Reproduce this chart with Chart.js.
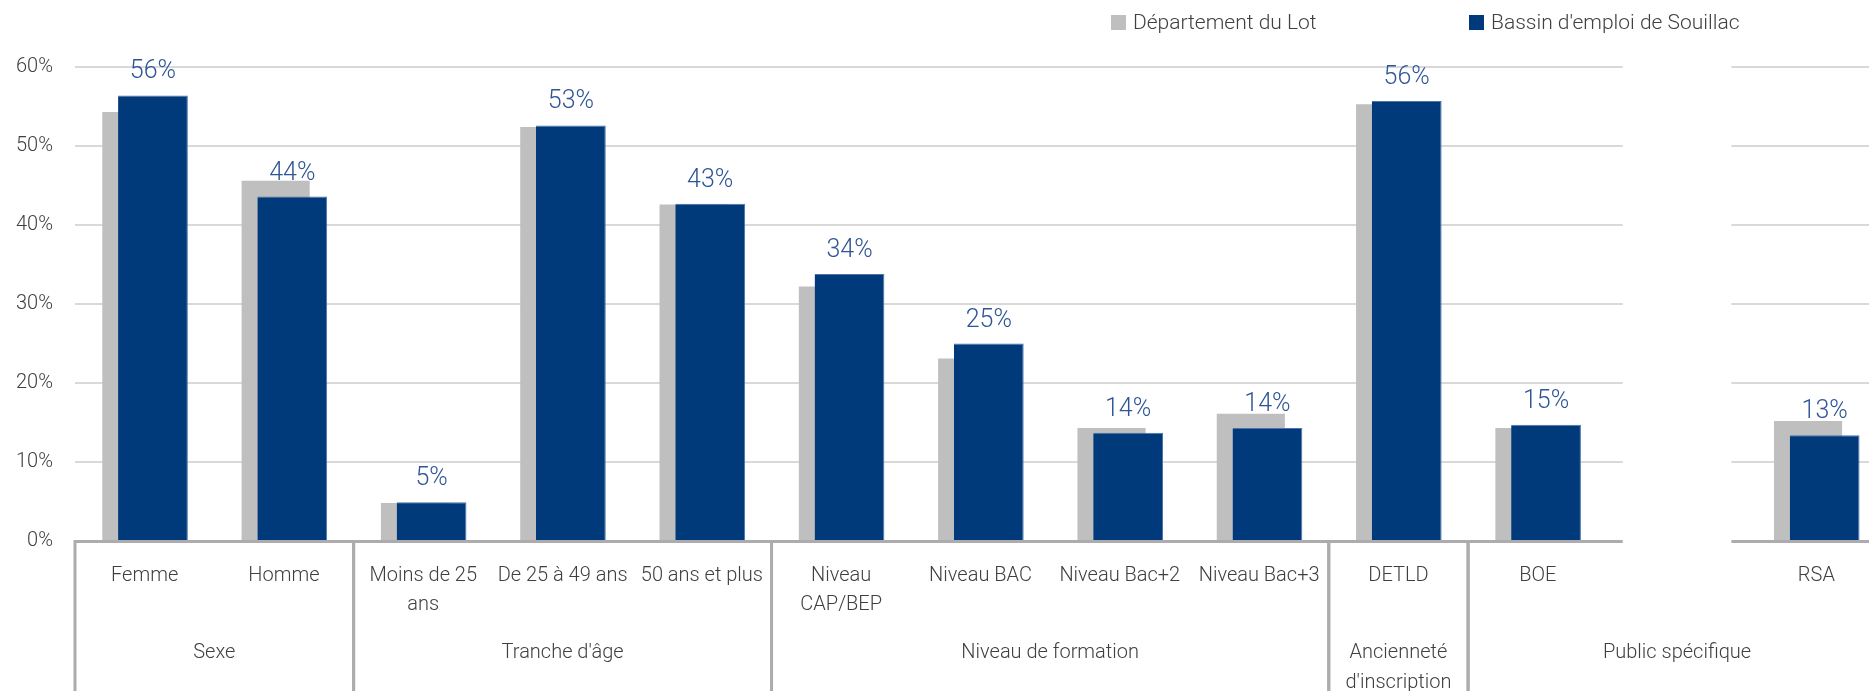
<!DOCTYPE html>
<html>
<head>
<meta charset="utf-8">
<script src="https://cdn.jsdelivr.net/npm/chart.js@4/dist/chart.umd.min.js"></script>
<style>
  html, body { margin: 0; padding: 0; overflow: hidden; background: #fff; }
  #wrap { position: relative; width: 1886px; height: 691px; }
  .item { position: absolute; top: 10px; display: flex; align-items: center; font: 300 21px Roboto, sans-serif; color: #404040; white-space: nowrap; }
  .box { width: 15px; height: 15px; margin-right: 7px; }
</style>
</head>
<body>
<div id="wrap">
  <canvas id="chart" width="1886" height="691"></canvas>
  <div class="item" style="left:1111px"><span class="box" style="background:#bfbfbf"></span>Département du Lot</div>
  <div class="item" style="left:1469px"><span class="box" style="background:#003a7a"></span>Bassin d'emploi de Souillac</div>
</div>
<script>
const gray = '#bfbfbf'
const navy = '#003a7a'
const textColor = '#404040'
const lineColor = '#aeabae'
const gridColor = '#d9d9d9'

const categories = ['Femme', 'Homme', ['Moins de 25', 'ans'], 'De 25 à 49 ans', '50 ans et plus',
  ['Niveau', 'CAP/BEP'], 'Niveau BAC', 'Niveau Bac+2', 'Niveau Bac+3', 'DETLD', 'BOE', '', 'RSA']
const groups = ['Sexe', "Tranche d'âge", 'Niveau de formation', ['Ancienneté', "d'inscription"], 'Public spécifique']
const groupSizes = [2, 3, 4, 1, 3]
const lotValues = [0.543, 0.456, 0.048, 0.524, 0.426, 0.322, 0.231, 0.143, 0.161, 0.553, 0.143, null, 0.152]
const souillacValues = [0.564, 0.436, 0.049, 0.526, 0.427, 0.338, 0.250, 0.137, 0.143, 0.557, 0.147, null, 0.134]
const yTicks = [0, 0.1, 0.2, 0.3, 0.4, 0.5, 0.6]

const font = { family: 'Roboto, sans-serif', size: 20, weight: 300 }
const pct = v => Math.round(v * 100) + '%'

// white-out the grid behind the empty category, like the original
const gapPlugin = {
  id: 'gap',
  beforeDatasetsDraw(chart) {
    const x = chart.scales.x
    const i = categories.indexOf('')
    if (i < 0) return
    const w = x.getPixelForValue(1) - x.getPixelForValue(0)
    const c = x.getPixelForValue(i)
    const ctx = chart.ctx
    ctx.save()
    ctx.fillStyle = '#fff'
    ctx.fillRect(c - w * 0.39, chart.chartArea.top - 3, w * 0.78, x.top - chart.chartArea.top + 6)
    ctx.restore()
  }
}

const valueLabels = {
  id: 'valueLabels',
  afterDatasetsDraw(chart) {
    const idx = chart.data.datasets.findIndex(d => d.data === souillacValues)
    const meta = chart.getDatasetMeta(idx)
    const ctx = chart.ctx
    ctx.save()
    ctx.font = `300 25px ${font.family}`
    ctx.fillStyle = '#2f5597'
    ctx.textAlign = 'center'
    ctx.textBaseline = 'alphabetic'
    meta.data.forEach((bar, i) => {
      if (souillacValues[i] == null) return
      ctx.fillText(pct(souillacValues[i]), bar.x, bar.y - 17)
    })
    ctx.restore()
  }
}

// second row of the category axis: group names and separators
const groupAxis = {
  id: 'groupAxis',
  afterDraw(chart) {
    const x = chart.scales.x
    const w = x.getPixelForValue(1) - x.getPixelForValue(0)
    const ctx = chart.ctx
    ctx.save()
    ctx.strokeStyle = lineColor
    ctx.lineWidth = 3
    ctx.fillStyle = textColor
    ctx.font = `${font.weight} ${font.size}px ${font.family}`
    ctx.textAlign = 'center'
    ctx.textBaseline = 'middle'
    let start = 0
    groups.forEach((g, gi) => {
      const left = x.getPixelForValue(start) - w / 2
      const right = x.getPixelForValue(start + groupSizes[gi] - 1) + w / 2
      ctx.beginPath()
      ctx.moveTo(left, x.top - 1)
      ctx.lineTo(left, chart.height)
      ctx.moveTo(right, x.top - 1)
      ctx.lineTo(right, chart.height)
      ctx.stroke()
      const lines = Array.isArray(g) ? g : [g]
      lines.forEach((t, li) => ctx.fillText(t, (left + right) / 2, x.top + 112 + li * 30))
      start += groupSizes[gi]
    })
    ctx.restore()
  }
}

new Chart(document.getElementById('chart'), {
  type: 'bar',
  data: {
    labels: categories,
    datasets: [
      // empty placeholder: puts the Lot stack in the left slot while Lot bars are drawn underneath
      { label: '', data: [], stack: 'lot', order: 0 },
      {
        label: 'Département du Lot',
        data: lotValues,
        backgroundColor: gray,
        stack: 'lot',
        order: 2,
        barPercentage: 4.1,
      },
      {
        label: "Bassin d'emploi de Souillac",
        data: souillacValues,
        backgroundColor: navy,
        borderColor: '#4a74ab',
        borderWidth: { top: 1, right: 1, left: 0, bottom: 0 },
        stack: 'souillac',
        order: 1,
        barPercentage: 4.2,
      },
    ]
  },
  options: {
    responsive: false,
    animation: false,
    devicePixelRatio: 1,
    categoryPercentage: 0.2385,
    layout: { padding: { top: 67, left: 0, right: 0, bottom: 0 } },
    plugins: {
      legend: { display: false },
      tooltip: { enabled: false },
    },
    scales: {
      x: {
        grid: { display: false, drawTicks: false },
        border: { display: true, color: lineColor, width: 3 },
        ticks: {
          color: textColor,
          font: { ...font, lineHeight: 1.42 },
          padding: 21,
          autoSkip: false,
          maxRotation: 0,
        },
        afterFit: s => { s.height = 150 },
      },
      y: {
        min: 0,
        max: 0.6,
        stacked: false,
        afterBuildTicks: s => { s.ticks = yTicks.map(v => ({ value: v })) },
        grid: { color: gridColor, lineWidth: 2, drawTicks: false },
        border: { display: false },
        ticks: {
          color: textColor,
          font,
          padding: 22,
          callback: v => pct(v),
        },
        afterFit: s => { s.width = 75 },
      }
    }
  },
  plugins: [gapPlugin, valueLabels, groupAxis]
})
</script>
</body>
</html>
